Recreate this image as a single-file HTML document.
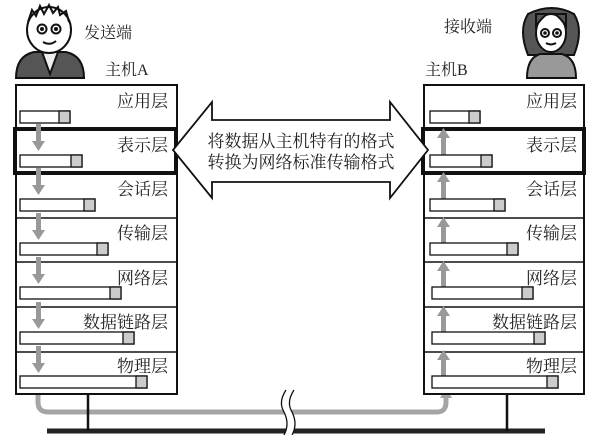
<!DOCTYPE html>
<html><head><meta charset="utf-8"><style>
body{margin:0;background:#fff}
svg text{font-family:"Liberation Serif","Noto Serif CJK SC",serif;fill:#222}
</style></head><body>
<svg width="600" height="435" viewBox="0 0 600 435" xmlns="http://www.w3.org/2000/svg">
<g stroke="#111" stroke-width="2">
<path d="M16 78 Q16 56 34 52 L66 52 Q84 56 84 78 Z" fill="#555"/>
<path d="M42 52 L50 74 L58 52 Z" fill="#eee"/>
<ellipse cx="49" cy="30" rx="22" ry="23" fill="#fff"/>
<path d="M28 22 L32 10 L36 16 L40 6 L44 14 L49 5 L53 13 L58 7 L60 15 L66 11 L69 22" fill="none"/>
<circle cx="42" cy="29" r="4.5" fill="#fff"/><circle cx="56" cy="29" r="4.5" fill="#fff"/>
<path d="M43 42 Q50 46 56 41" fill="none"/>
</g>
<circle cx="42" cy="29" r="2" fill="#111"/><circle cx="56" cy="29" r="2" fill="#111"/>
<g stroke="#111" stroke-width="2">
<path d="M528 55 Q518 30 528 14 Q552 2 574 14 Q584 30 574 55 Z" fill="#555"/>
<path d="M527 78 Q527 58 540 54 L562 54 Q576 58 576 78 Z" fill="#999"/>
<ellipse cx="551" cy="33" rx="15" ry="19" fill="#fff"/>
<path d="M536 26 Q546 12 551 14 Q556 12 566 26 L566 14 L536 14Z" fill="#555"/>
<circle cx="545" cy="33" r="4" fill="#fff"/><circle cx="557" cy="33" r="4" fill="#fff"/>
<path d="M546 43 Q551 46 556 43" fill="none"/>
</g>
<circle cx="545" cy="33" r="1.8" fill="#111"/><circle cx="557" cy="33" r="1.8" fill="#111"/>
<text x="84" y="38" font-size="16">发送端</text>
<text x="105" y="75" font-size="16">主机A</text>
<text x="444" y="32" font-size="16">接收端</text>
<text x="425" y="75" font-size="16">主机B</text>

<path d="M38 370 L38 402 Q38 412 48 412 L437 412 Q446 412 446 402 L446 395" fill="none" stroke="#a5a5a5" stroke-width="5"/>
<path d="M440 398 L446 388 L452 398 Z" fill="#a5a5a5"/>
<line x1="47" y1="431" x2="545" y2="431" stroke="#222" stroke-width="5"/>
<line x1="88" y1="385" x2="88" y2="431" stroke="#111" stroke-width="2.5"/>
<line x1="507" y1="373" x2="507" y2="431" stroke="#111" stroke-width="2.5"/>
<path d="M286 390 Q278 402 284 412 Q290 424 284 435 L292 435 Q298 424 292 412 Q286 402 294 390 Z" fill="#fff"/>
<path d="M286 390 Q278 402 284 412 Q290 424 284 435 M294 390 Q286 402 292 412 Q298 424 292 435" fill="none" stroke="#111" stroke-width="1.3"/>

<g fill="#fff" stroke="#111" stroke-width="2">
<rect x="16" y="85" width="161" height="309"/>
<rect x="424" y="85" width="160" height="309"/>
</g>
<g stroke="#111" stroke-width="1.5">
<line x1="16" y1="218" x2="177" y2="218"/><line x1="16" y1="262" x2="177" y2="262"/><line x1="16" y1="307" x2="177" y2="307"/><line x1="16" y1="352" x2="177" y2="352"/>
<line x1="424" y1="218" x2="584" y2="218"/><line x1="424" y1="262" x2="584" y2="262"/><line x1="424" y1="307" x2="584" y2="307"/><line x1="424" y1="352" x2="584" y2="352"/>
</g>
<rect x="15" y="129" width="161" height="44" fill="none" stroke="#111" stroke-width="4"/>
<rect x="423" y="129" width="161" height="44" fill="none" stroke="#111" stroke-width="4"/>

<g fill="#999">
<rect x="36" y="124" width="5" height="18"/><path d="M32 141 L38.5 151 L45 141Z"/>
<rect x="36" y="168" width="5" height="18"/><path d="M32 185 L38.5 195 L45 185Z"/>
<rect x="36" y="213" width="5" height="18"/><path d="M32 230 L38.5 240 L45 230Z"/>
<rect x="36" y="257" width="5" height="18"/><path d="M32 274 L38.5 284 L45 274Z"/>
<rect x="36" y="302" width="5" height="18"/><path d="M32 319 L38.5 329 L45 319Z"/>
<rect x="36" y="346" width="5" height="18"/><path d="M32 363 L38.5 373 L45 363Z"/>
</g>
<g fill="#999">
<rect x="441" y="136" width="5" height="22"/><path d="M437 138 L443.5 128 L450 138Z"/>
<rect x="441" y="180" width="5" height="22"/><path d="M437 182 L443.5 172 L450 182Z"/>
<rect x="441" y="225" width="5" height="22"/><path d="M437 227 L443.5 217 L450 227Z"/>
<rect x="441" y="269" width="5" height="22"/><path d="M437 271 L443.5 261 L450 271Z"/>
<rect x="441" y="314" width="5" height="22"/><path d="M437 316 L443.5 306 L450 316Z"/>
<rect x="441" y="358" width="5" height="22"/><path d="M437 360 L443.5 350 L450 360Z"/>
</g>

<g stroke="#111" stroke-width="1.3">
<rect x="20" y="111" width="50" height="12" fill="#fff"/><rect x="59" y="111" width="11" height="12" fill="#ccc"/>
<rect x="20" y="155" width="62" height="12" fill="#fff"/><rect x="71" y="155" width="11" height="12" fill="#ccc"/>
<rect x="20" y="199" width="75" height="12" fill="#fff"/><rect x="84" y="199" width="11" height="12" fill="#ccc"/>
<rect x="20" y="243" width="88" height="12" fill="#fff"/><rect x="97" y="243" width="11" height="12" fill="#ccc"/>
<rect x="20" y="287" width="101" height="12" fill="#fff"/><rect x="110" y="287" width="11" height="12" fill="#ccc"/>
<rect x="20" y="332" width="114" height="12" fill="#fff"/><rect x="123" y="332" width="11" height="12" fill="#ccc"/>
<rect x="20" y="376" width="127" height="12" fill="#fff"/><rect x="136" y="376" width="11" height="12" fill="#ccc"/>
<rect x="430" y="111" width="50" height="12" fill="#fff"/><rect x="469" y="111" width="11" height="12" fill="#ccc"/>
<rect x="430" y="155" width="62" height="12" fill="#fff"/><rect x="481" y="155" width="11" height="12" fill="#ccc"/>
<rect x="430" y="199" width="75" height="12" fill="#fff"/><rect x="494" y="199" width="11" height="12" fill="#ccc"/>
<rect x="430" y="243" width="88" height="12" fill="#fff"/><rect x="507" y="243" width="11" height="12" fill="#ccc"/>
<rect x="432" y="287" width="101" height="12" fill="#fff"/><rect x="522" y="287" width="11" height="12" fill="#ccc"/>
<rect x="432" y="332" width="113" height="12" fill="#fff"/><rect x="534" y="332" width="11" height="12" fill="#ccc"/>
<rect x="432" y="376" width="126" height="12" fill="#fff"/><rect x="547" y="376" width="11" height="12" fill="#ccc"/>
</g>

<g font-size="17" text-anchor="end">
<text x="168" y="107">应用层</text><text x="168" y="151">表示层</text><text x="168" y="195">会话层</text>
<text x="168" y="239">传输层</text><text x="168" y="284">网络层</text><text x="168" y="328">数据链路层</text><text x="168" y="372">物理层</text>
<text x="577" y="107">应用层</text><text x="577" y="151">表示层</text><text x="577" y="195">会话层</text>
<text x="577" y="239">传输层</text><text x="577" y="284">网络层</text><text x="577" y="328">数据链路层</text><text x="577" y="372">物理层</text>
</g>

<path d="M173 150 L212 102 L212 120 L390 120 L390 102 L428 150 L390 198 L390 182 L212 182 L212 198 Z" fill="#fff" stroke="#111" stroke-width="1.8"/>
<text x="301" y="147" font-size="17" text-anchor="middle">将数据从主机特有的格式</text>
<text x="301" y="168" font-size="17" text-anchor="middle">转换为网络标准传输格式</text>
</svg>
</body></html>
